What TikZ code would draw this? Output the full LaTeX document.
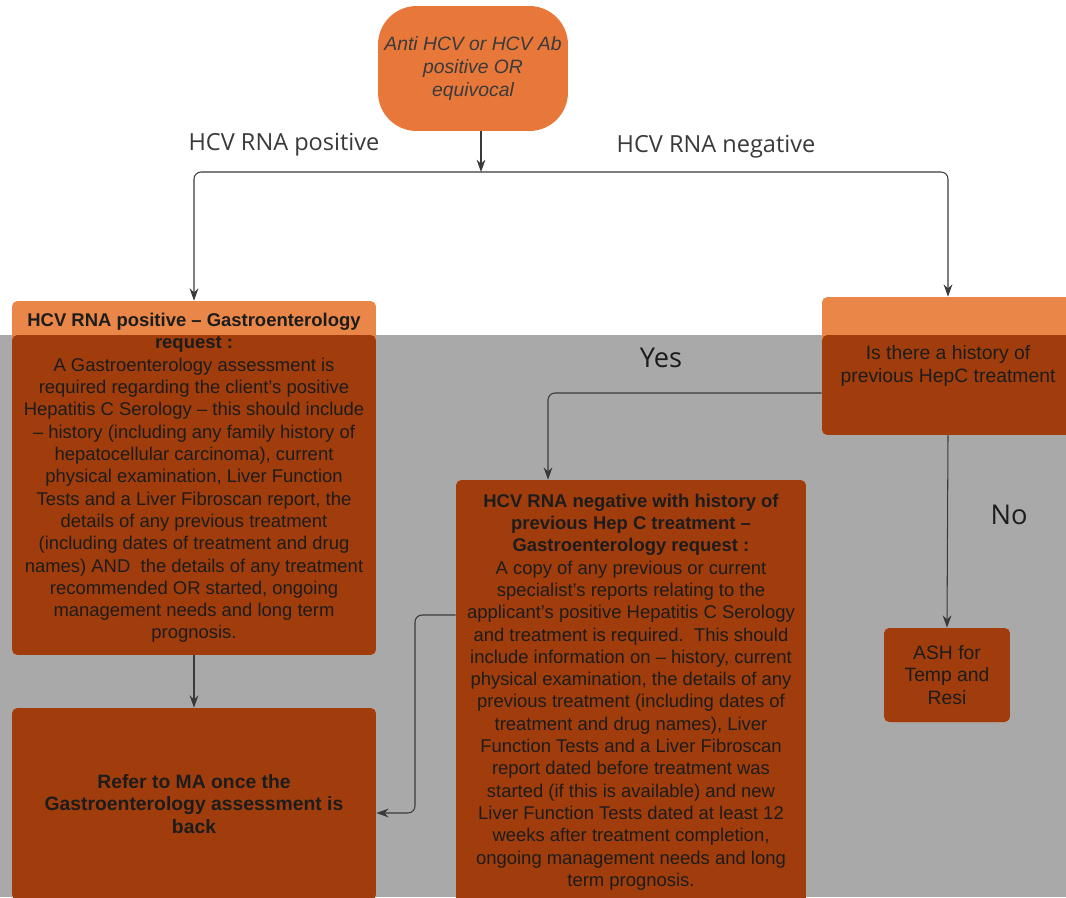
\documentclass[tikz,border=0pt]{standalone}
\usepackage{fontspec}
\setmainfont{Liberation Sans}
\newfontfamily\labelfont{Open Sans}
\usepackage{xcolor}
\usetikzlibrary{arrows.meta, positioning, calc}

\definecolor{ovalorange}{HTML}{E8783A}
\definecolor{boxorange}{HTML}{EB8649}
\definecolor{boxbrown}{HTML}{A13D0C}
\definecolor{scangray}{HTML}{A8A9A8}
\definecolor{linegray}{HTML}{3A3A3A}
\definecolor{textdark}{HTML}{1C1C1C}

\begin{document}
\begin{tikzpicture}[
    x=0.02cm, y=-0.02cm,
    % Box styles
    basebox/.style={rounded corners=3pt, inner sep=2pt, align=center, text=textdark,
        fill=boxorange, font=\fontsize{10.5}{12.7}\selectfont,
        path picture={\fill[boxbrown] (path picture bounding box.south west)
            rectangle (path picture bounding box.east |- gray_edge);}},
    startbox/.style={rounded corners=22pt, inner sep=1pt, align=center, fill=ovalorange,
        text=linegray, font=\fontsize{11}{12.9}\selectfont\itshape,
        minimum width=3.8cm, minimum height=2.5cm},
    choicebox/.style={basebox, font=\fontsize{11}{13}\selectfont},
    % Label and connector styles
    branch/.style={font=\labelfont\fontsize{13.4}{15}\selectfont, text=linegray},
    answer/.style={font=\labelfont\fontsize{15.5}{17}\selectfont, text=textdark},
    link/.style={-{Stealth[length=7pt, width=5pt]}, draw=linegray, line width=0.6pt, rounded corners=4pt}
]

% Page and scanned gray band
\clip (0,0) rectangle (1066,897);
\fill[white] (0,0) rectangle (1066,897);
\coordinate (gray_edge) at (0,335);
\fill[scangray] (gray_edge) rectangle (1066,897);

% Start of the flow
\node[startbox] (anti_hcv) at (473,68.5) {Anti HCV or HCV Ab\\positive OR\\equivocal};
\coordinate (split_pt) at (481,172);

% HCV RNA positive side
\node[basebox, minimum width=7.28cm, minimum height=7.08cm] (pos_request) at (194,478) {%
  \textbf{HCV RNA positive – Gastroenterology}\\
  \textbf{request :}\\
  A Gastroenterology assessment is\\
  required regarding the client’s positive\\
  Hepatitis C Serology – this should include\\
  – history (including any family history of\\
  hepatocellular carcinoma), current\\
  physical examination, Liver Function\\
  Tests and a Liver Fibroscan report, the\\
  details of any previous treatment\\
  (including dates of treatment and drug\\
  names) AND\ \ the details of any treatment\\
  recommended OR started, ongoing\\
  management needs and long term\\
  prognosis.};
\node[basebox, font=\fontsize{11}{13}\selectfont\bfseries, minimum width=7.28cm, minimum height=3.84cm]
  (refer_ma) at (194,804) {Refer to MA once the\\Gastroenterology assessment is\\back};

% HCV RNA negative side
\node[choicebox, minimum width=5.04cm, minimum height=2.76cm] (hist_check) at (948,366)
  {Is there a history of\\previous HepC treatment};
\node[basebox, minimum width=7.0cm, minimum height=8.48cm] (neg_request) at (631,692) {%
  \textbf{HCV RNA negative with history of}\\
  \textbf{previous Hep C treatment –}\\
  \textbf{Gastroenterology request :}\\
  A copy of any previous or current\\
  specialist’s reports relating to the\\
  applicant’s positive Hepatitis C Serology\\
  and treatment is required.\ \ This should\\
  include information on – history, current\\
  physical examination, the details of any\\
  previous treatment (including dates of\\
  treatment and drug names), Liver\\
  Function Tests and a Liver Fibroscan\\
  report dated before treatment was\\
  started (if this is available) and new\\
  Liver Function Tests dated at least 12\\
  weeks after treatment completion,\\
  ongoing management needs and long\\
  term prognosis.};
\node[choicebox, minimum width=2.52cm, minimum height=1.88cm] (ash_box) at (947,675)
  {ASH for\\Temp and\\Resi};

% Labels
\node[branch] (pos_label) at (284,145) {HCV RNA positive};
\node[branch] (neg_label) at (716,147) {HCV RNA negative};
\node[answer] (yes_label) at (661,358) {Yes};
\node[answer] (no_label) at (1009,515) {No};

% Connections
\draw[link] (split_pt |- anti_hcv.south) -- (split_pt);
\draw[link] (split_pt) -| (pos_request.north);
\draw[link] (split_pt) -| (hist_check.north);
\draw[link] (pos_request.south) -- (refer_ma.north);
\draw[link] ([yshift=-5.4mm]hist_check.west) -| ([xshift=-16.6mm]neg_request.north);
\draw[link] (hist_check.south) -- (ash_box.north);
\coordinate (back_turn) at (415,813);
\draw[link] ([yshift=15.4mm]neg_request.west) -| (back_turn) -- (back_turn -| refer_ma.east);

\end{tikzpicture}
\end{document}
